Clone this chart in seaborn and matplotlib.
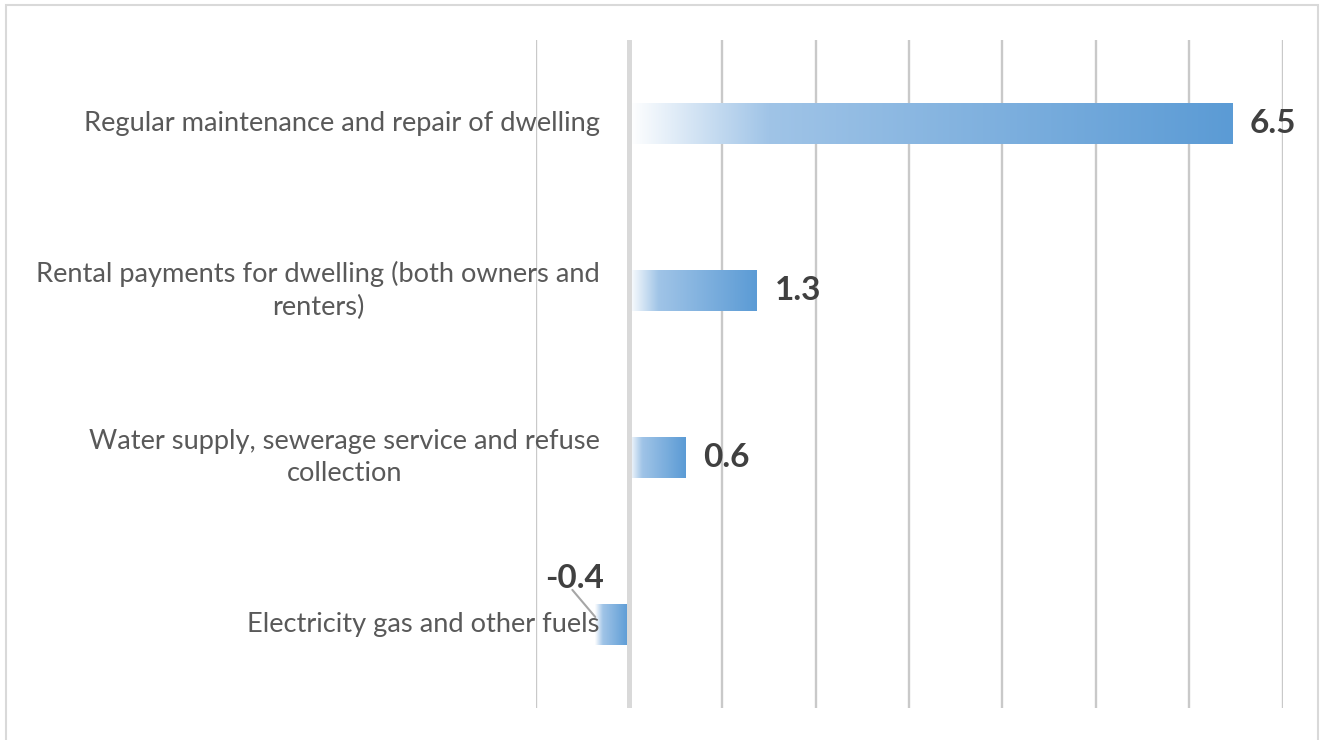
import numpy as np
import pandas as pd
import seaborn as sns
import matplotlib.pyplot as plt
import matplotlib.transforms as mtransforms
from matplotlib.colors import LinearSegmentedColormap
from matplotlib.patches import Rectangle

# ---- data ----
categories = [
    "Regular maintenance and repair of dwelling",
    "Rental payments for dwelling (both owners and\nrenters)",
    "Water supply, sewerage service and refuse\ncollection",
    "Electricity gas and other fuels",
]
values = [6.46, 1.37, 0.6, -0.36]
value_labels = ["6.5", "1.3", "0.6", "-0.4"]
x_ticks = [-1, 0, 1, 2, 3, 4, 5, 6, 7]

sns.set_theme(style="white")
plt.rcParams['font.family'] = ['Lato', 'DejaVu Sans']

W, H = 1320, 740
fig = plt.figure(figsize=(W / 100, H / 100), dpi=100)
ax = fig.add_axes([535.5 / W, 1 - 708 / H, (1282.5 - 535.5) / W, 668 / H])

df = pd.DataFrame({"category": categories, "value": values})
sns.barplot(data=df, x="value", y="category", orient="h", width=0.245,
            color="#5b9bd5", ax=ax, zorder=2)

# gradient fill for each bar
cmap = LinearSegmentedColormap.from_list(
    "grad", [(0.0, "#ffffff"), (0.23, "#a0c4e7"), (1.0, "#5b9bd5")])
grad = np.linspace(0, 1, 256).reshape(1, -1)
for p in list(ax.patches):
    x0 = p.get_x()
    w = p.get_width()
    y0 = p.get_y()
    h = p.get_height()
    left, right = min(x0, x0 + w), max(x0, x0 + w)
    ax.imshow(grad, cmap=cmap, extent=(left, right, y0 + h, y0),
              aspect="auto", zorder=2, interpolation="bicubic")
    p.set_facecolor("none")
    p.set_edgecolor("none")

ax.set_xlim(x_ticks[0], x_ticks[-1])
ax.set_ylim(len(categories) - 0.5, -0.5)
ax.set_xticks(x_ticks)
ax.set_xticklabels([])
ax.set_yticklabels([])
ax.tick_params(length=0)
ax.set_xlabel("")
ax.set_ylabel("")
for s in ax.spines.values():
    s.set_visible(False)
ax.grid(axis="x", color="#c9c9c9", lw=1.7, zorder=0)
ax.set_axisbelow(True)
ax.axvline(0, color="#d9d9d9", lw=3.6, zorder=3)

# category labels next to the zero axis
lab_tr = mtransforms.offset_copy(ax.transData, fig=fig, x=-29, y=0, units="dots")
for i, c in enumerate(categories):
    ax.text(0, i, c, transform=lab_tr, ha="right", va="center",
            multialignment="center", fontsize=19.6, color="#595959",
            linespacing=1.38, zorder=5)

# value labels
for i, (v, lab) in enumerate(zip(values, value_labels)):
    if v >= 0:
        tr = mtransforms.offset_copy(ax.transData, fig=fig, x=18, y=0, units="dots")
        ax.text(v, i, lab, transform=tr, ha="left", va="center",
                fontsize=24, fontweight="bold", color="#404040", zorder=5)
    else:
        anchor = (v, i - 0.045)
        ax.annotate(lab, xy=anchor, xytext=(-15, 28),
                    textcoords="offset points", ha="center", va="center",
                    fontsize=24, fontweight="bold", color="#404040", zorder=5)
        ax.annotate("", xy=anchor, xytext=(-16.5, 19.5),
                    textcoords="offset points",
                    arrowprops=dict(arrowstyle="-", color="#a6a6a6", lw=1.5,
                                    shrinkA=0, shrinkB=0),
                    zorder=5)

# outer border
fig.add_artist(Rectangle((6 / W, -0.02), (1318 - 6) / W, 1 - 5 / H + 0.02,
                         transform=fig.transFigure, fill=False,
                         edgecolor="#d9d9d9", lw=1.5))

fig.savefig("out.png", dpi=100)
